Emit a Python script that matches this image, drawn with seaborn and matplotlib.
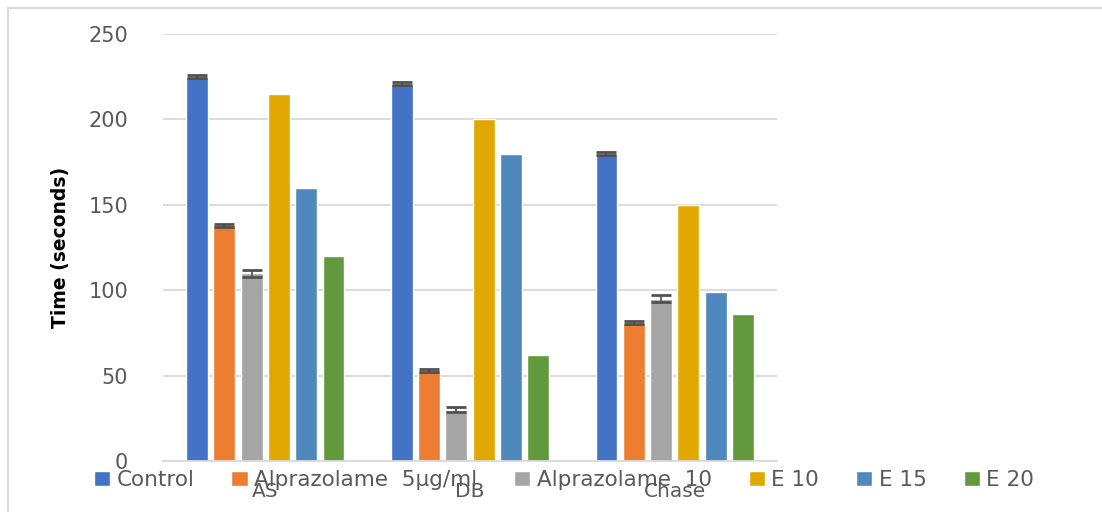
import matplotlib
matplotlib.use("Agg")
import matplotlib.pyplot as plt
import seaborn as sns
import pandas as pd
import numpy as np
from matplotlib.patches import Rectangle

categories = ["AS", "DB", "Chase"]
series = ["Control", "Alprazolame  5µg/ml", "Alprazolame  10", "E 10", "E 15", "E 20"]
control = [225, 221, 180]
alpraz5 = [138, 53, 81]
alpraz10 = [110, 30, 95]
e10 = [215, 200, 150]
e15 = [160, 180, 99]
e20 = [120, 62, 86]
err_control = [1, 1, 1]
err_alpraz5 = [1, 1, 1]
err_alpraz10 = [2, 1.5, 2]
colors = ["#4472C4", "#ED7D31", "#A5A5A5", "#E0A800", "#4E88BC", "#62993D"]
yticks = [0, 50, 100, 150, 200, 250]

values = [control, alpraz5, alpraz10, e10, e15, e20]
errs = [err_control, err_alpraz5, err_alpraz10, None, None, None]

rows = []
for s, vals in zip(series, values):
    for c, v in zip(categories, vals):
        rows.append({"cat": c, "series": s, "val": v})
df = pd.DataFrame(rows)

sns.set_theme(style="white")
plt.rcParams["font.family"] = ["DejaVu Sans"]

fig = plt.figure(figsize=(11.02, 5.12), dpi=100)
ax = fig.add_axes([163/1102, 1-461/512, 614/1102, 427/512])

sns.barplot(data=df, x="cat", y="val", hue="series", order=categories,
            hue_order=series, palette=colors, errorbar=None, width=0.8,
            gap=0.2, ax=ax, saturation=1, legend=True)

# error bars on bars drawn by seaborn
for cont, e in zip(ax.containers, errs):
    if e is None:
        continue
    xs = [p.get_x() + p.get_width()/2 for p in cont.patches]
    hs = [p.get_height() for p in cont.patches]
    ax.errorbar(xs, hs, yerr=e, fmt="none", ecolor="#505050", elinewidth=1.2,
                capsize=7, capthick=2, zorder=5)

ax.set_ylim(0, 250)
ax.set_yticks(yticks)
ax.set_xlim(-0.5, 2.5)
ax.yaxis.grid(True, color="#D9D9D9", linewidth=1.3)
ax.set_axisbelow(True)
for side in ["top", "right", "left"]:
    ax.spines[side].set_visible(False)
ax.spines["bottom"].set_color("#D9D9D9")
ax.spines["bottom"].set_linewidth(1.3)
ax.tick_params(axis="y", length=0, pad=25, labelsize=15, labelcolor="#595959")
ax.tick_params(axis="x", length=0, pad=15, labelsize=14.5, labelcolor="#595959")
ax.set_xlabel("")
ax.set_ylabel("Time (seconds)", fontsize=13.5, fontweight="bold", color="black")
ax.yaxis.set_label_coords(-0.152, 0.5)

handles, labels = ax.get_legend_handles_labels()
ax.get_legend().remove()
fig.legend(handles, labels, loc="center", bbox_to_anchor=(564/1102, 1-480/512),
           ncol=6, frameon=False, fontsize=15.5, handlelength=0.75, handleheight=0.65,
           handletextpad=0.3, columnspacing=1.72, labelcolor="#595959",
           borderaxespad=0, borderpad=0)

fig.patches.append(Rectangle((8/1102, -0.1), 1.2, 1-8/512 + 0.1,
                             transform=fig.transFigure, fill=False,
                             edgecolor="#D9D9D9", linewidth=1.5, zorder=0))

fig.savefig("out.png", dpi=100, facecolor="white")
